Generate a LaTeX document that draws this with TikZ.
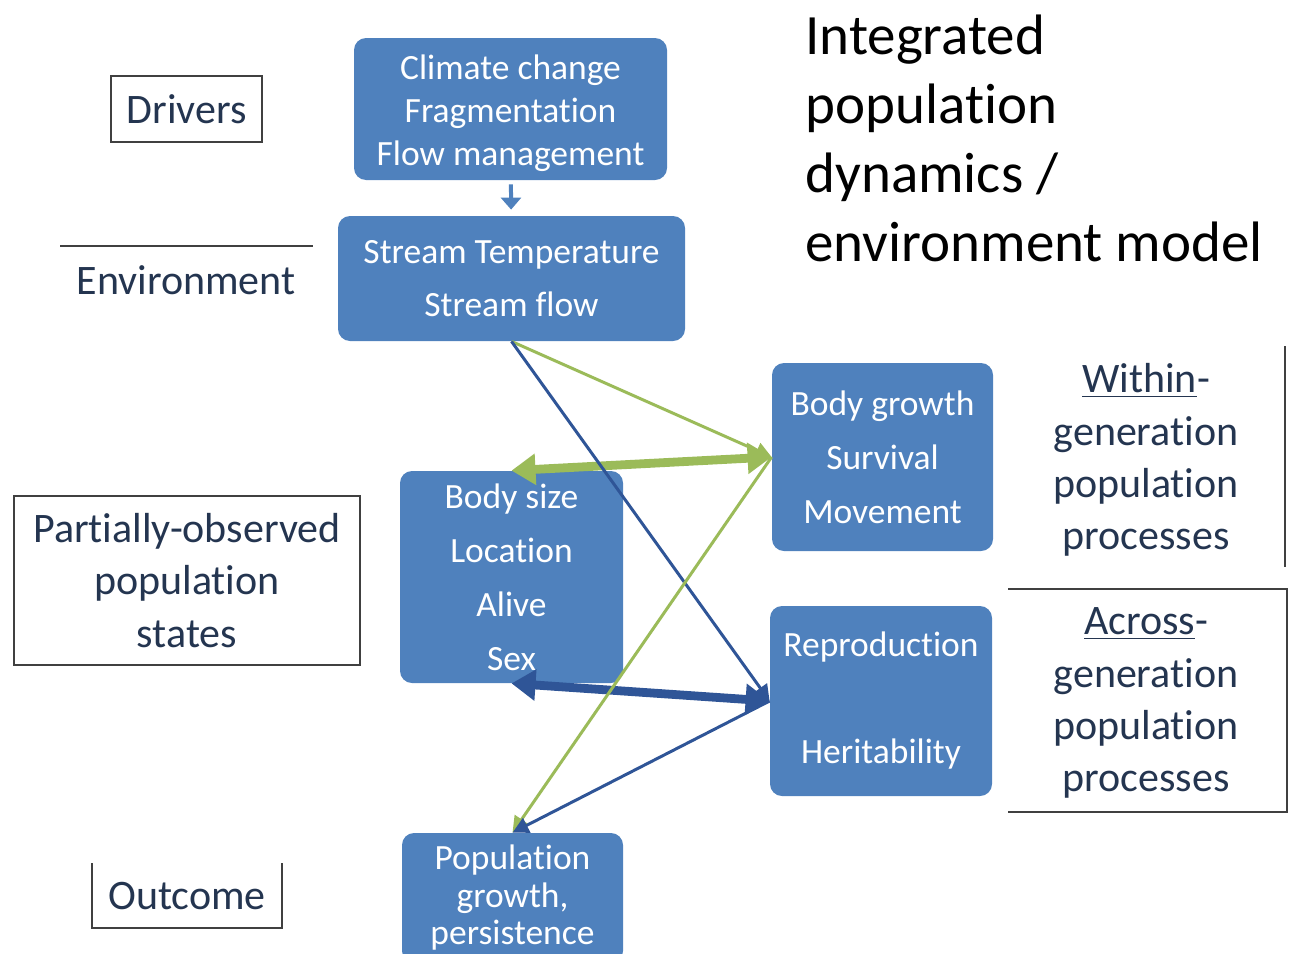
\documentclass[tikz,border=0pt]{standalone}
\usepackage{fontspec}
\setmainfont{Carlito}[Ligatures={NoCommon,NoContextual,NoRequired}, Contextuals=NoAlternate]
\usetikzlibrary{arrows.meta}
\definecolor{popBlue}{HTML}{4F81BD}
\definecolor{popDark}{HTML}{2F5597}
\definecolor{popGreen}{HTML}{9BBB59}
\definecolor{popText}{HTML}{243550}
\definecolor{popFrame}{HTML}{404040}
\tikzset{
  procbox/.style   = {rectangle, rounded corners=6pt, fill=popBlue, text=white,
                      align=center, inner sep=0pt},
  boxfont/.style   = {font=\fontsize{17.75}{#1}\selectfont},
  lbl/.style       = {text=popText, align=center, inner sep=0pt,
                      font=\fontsize{21}{26.1}\selectfont},
  frame/.style     = {popFrame, line width=0.7pt},
  thinlink/.style  = {-{Triangle[length=8pt,width=8pt]}, line width=1.5pt},
  thicklink/.style = {{Triangle[length=12pt,width=15pt]}-{Triangle[length=12pt,width=15pt]},
                      line width=4.4pt},
}

\begin{document}
\begin{tikzpicture}[x=0.5pt, y=-0.5pt]
\useasboundingbox (0,0) rectangle (1289,953);
% level labels on the left
\node[lbl, draw=popFrame, line width=0.7pt, minimum width=75.5pt, minimum height=33pt]
  (drvlbl) at (186.5,109) {Drivers};
\draw[frame] (60,246) -- (313,246);
\node[lbl] (envlbl) at (186,280) {Environment};
\node[lbl, draw=popFrame, line width=0.7pt, minimum width=173pt, minimum height=84.5pt]
  (statelbl) at (187,580.5) {Partially-observed\\population\\states};
\draw[frame] (92,863) |- (282,928) -- (282,863);
\node[lbl] (outlbl) at (187,896) {Outcome};

% model title
\node[anchor=north west, align=left, inner sep=0pt, font=\fontsize{28.5}{34.35}\selectfont]
  (title) at (805,15) {Integrated\\population\\dynamics /\\environment model};

% process groups on the right
\node[lbl] (withinlbl) at (1146,460) {\underline{Within}-\\generation\\population\\processes};
\draw[frame] (1285,346) -- (1285,567);
\node[lbl] (acrosslbl) at (1146,703) {\underline{Across}-\\generation\\population\\processes};
\draw[frame] (1008,589) -- (1287,589) -- (1287,812) -- (1008,812);

% blue boxes (the strut pushes the driver list a little lower)
\node[procbox, boxfont=21.5, minimum width=156.5pt, minimum height=71pt]
  (drivers) at (510.5,109) {\rule{0pt}{17pt}Climate change\\Fragmentation\\Flow management};
\node[procbox, boxfont=26.5, minimum width=173.5pt, minimum height=62.5pt]
  (env) at (511.5,278.5) {Stream Temperature\\Stream flow};
\node[procbox, boxfont=27, minimum width=111.5pt, minimum height=106pt]
  (states) at (511.5,577) {Body size\\Location\\Alive\\Sex};
\node[procbox, boxfont=27, minimum width=110.5pt, minimum height=94pt]
  (growth) at (882.5,457) {Body growth\\Survival\\Movement};
\node[procbox, boxfont=26.75, minimum width=111pt, minimum height=95pt]
  (repro) at (881,701) {Reproduction\\ \\Heritability};
\node[procbox, boxfont=18.75, minimum width=110.5pt, minimum height=65pt]
  (outcome) at (512.5,898) {Population\\growth,\\persistence};

% links
\draw[popBlue, line width=2pt, -{Triangle[length=6pt,width=10pt]},
      shorten <=2pt, shorten >=3pt] (drivers) -- (env);
\draw[thicklink, popGreen] (states.north) -- (growth.west);
\draw[thicklink, popDark] (states.south) -- (repro.west);
\draw[thinlink, popGreen] (env.south) -- (growth.west);
\draw[thinlink, popDark] (env.south) -- (repro.west);
\draw[thinlink, popGreen] (growth.west) -- (outcome.north);
\draw[thinlink, popDark] (repro.west) -- (outcome.north);
\end{tikzpicture}
\end{document}
